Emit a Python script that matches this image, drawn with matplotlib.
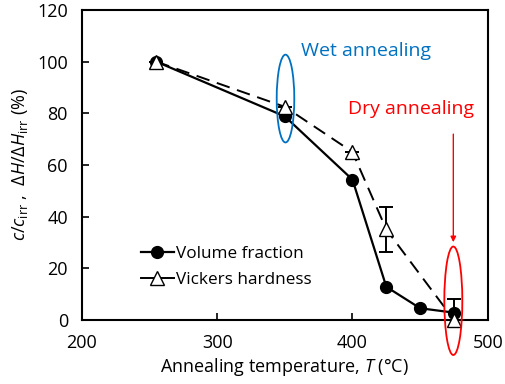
import matplotlib.pyplot as plt
from matplotlib.lines import Line2D
from matplotlib.patches import Ellipse

plt.rcParams["font.family"] = ["Open Sans", "DejaVu Sans"]
plt.rcParams["mathtext.fontset"] = "custom"
plt.rcParams["mathtext.rm"] = "Open Sans"
plt.rcParams["mathtext.it"] = "Open Sans:italic"

# data
temp_vol = [255, 350, 400, 425, 450, 475]
volume_fraction = [100, 78.8, 54.3, 12.8, 4.5, 2.8]

temp_hv = [255, 350, 400, 425, 475]
vickers = [100, 82.5, 65, 35, 0]
vickers_err = [0, 0, 0, 8.7, 8]

x_ticks = [200, 300, 400, 500]
y_ticks = [0, 20, 40, 60, 80, 100, 120]

fig = plt.figure(figsize=(5.05, 3.84), dpi=100)
ax = fig.add_axes([0.162, 0.167, 0.804, 0.807])

ax.plot(temp_vol, volume_fraction, "-o", color="black", lw=1.6,
        ms=8.5, zorder=3, clip_on=False)
ax.errorbar(temp_hv, vickers, yerr=vickers_err, fmt="none", ecolor="black",
            capsize=5, elinewidth=1.4, capthick=1.4, zorder=4)
ax.plot(temp_hv, vickers, "--^", color="black", mfc="white", mec="black",
        lw=1.4, ms=9.5, dashes=(7, 4), zorder=4, clip_on=False)

ax.set_xlim(200, 500)
ax.set_ylim(0, 120)
ax.set_xticks(x_ticks)
ax.set_yticks(y_ticks)
ax.tick_params(direction="in", length=5, width=1.2, labelsize=13, pad=10)
for s in ax.spines.values():
    s.set_linewidth(1.5)

ax.set_xlabel("Annealing temperature, $T$ (°C)", fontsize=13, labelpad=3)
ax.set_ylabel(r"$c$/$c_{\rm irr}$ ,  Δ$H$/Δ$H_{\rm irr}$ (%)", fontsize=13,
              labelpad=5)

blue = "#0070C0"
red = "#FF0000"
ax.add_patch(Ellipse((350.5, 85.7), 13, 34, fill=False, ec=blue, lw=1.3,
                     clip_on=False, zorder=5))
ax.add_patch(Ellipse((474.5, 7.4), 13.3, 42, fill=False, ec=red, lw=1.3,
                     clip_on=False, zorder=5))
ax.text(362, 104, "Wet annealing", color=blue, fontsize=14, va="center")
ax.text(397, 81.5, "Dry annealing", color=red, fontsize=14, va="center")
ax.annotate("", xy=(474.5, 29), xytext=(474.5, 73),
            arrowprops=dict(arrowstyle="-|>", color=red, lw=1,
                            mutation_scale=8))

handles = [
    Line2D([], [], color="black", marker="o", ms=8.5, lw=1.6),
    Line2D([], [], color="black", marker="^", mfc="white", ms=9.5, lw=1.4),
]
ax.legend(handles, ["Volume fraction", "Vickers hardness"], loc="center left",
          bbox_to_anchor=(0.125, 0.171), frameon=False, fontsize=12.3,
          handlelength=1.9, handletextpad=0.15, labelspacing=0.6,
          borderpad=0)

fig.savefig("out.png", dpi=100)
